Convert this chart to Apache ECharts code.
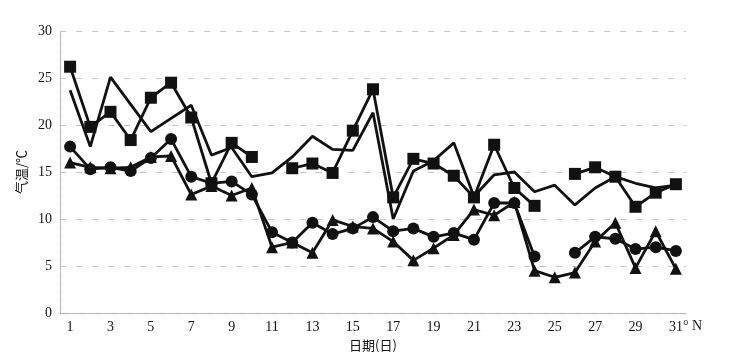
<!DOCTYPE html>
<html><head><meta charset="utf-8">
<script src="https://cdn.jsdelivr.net/npm/echarts@6/dist/echarts.min.js"></script>
<style>html,body{margin:0;padding:0;background:#fff}#c{width:730px;height:362px}</style>
</head><body><div id="c"></div>
<script>
var days = ['1','2','3','4','5','6','7','8','9','10','11','12','13','14','15','16','17','18','19','20','21','22','23','24','25','26','27','28','29','30','31'];
var yTicks = [0,5,10,15,20,25,30];
var plainLine = [23.7,17.7,25.1,22.2,19.3,20.7,22.1,16.8,17.6,14.5,14.9,16.6,18.8,17.4,17.3,21.3,10.0,15.1,16.2,18.1,12.4,14.7,15.0,12.9,13.6,11.5,13.3,14.5,13.8,13.3,13.6];
var squares = [26.2,19.8,21.4,18.4,22.9,24.5,20.8,13.8,18.1,16.6,null,15.4,15.9,14.9,19.4,23.8,12.3,16.4,15.9,14.6,12.3,17.9,13.3,11.4,null,14.8,15.5,14.5,11.3,12.8,13.7];
var circles = [17.7,15.3,15.5,15.1,16.5,18.5,14.5,13.8,14.0,12.6,8.6,7.5,9.6,8.4,9.0,10.2,8.7,9.0,8.1,8.5,7.8,11.7,11.7,6.0,null,6.4,8.1,7.9,6.8,7.0,6.6];
var triangles = [16.0,15.5,15.4,15.5,16.6,16.7,12.6,13.5,12.5,13.3,7.0,7.5,6.4,9.9,9.2,9.0,7.6,5.6,6.9,8.3,11.0,10.4,11.8,4.5,3.8,4.3,7.6,9.6,4.8,8.7,4.7];
var lastSuffix = '° N';

var chart = echarts.init(document.getElementById('c'), null, {renderer:'canvas'});
var serif = 'Liberation Serif, Times New Roman, serif';
function ser(name, data, symbol, size){
  return {name:name, type:'line', data:data, symbol:symbol, symbolSize:size,
    showSymbol: symbol!=='none', connectNulls:false, animation:false,
    lineStyle:{color:'#111', width:2.8}, itemStyle:{color:'#111'}};
}
chart.setOption({
  backgroundColor:'#fff',
  animation:false,
  grid:{left:60, right:44, top:31, bottom:49},
  xAxis:{type:'category', data:days, boundaryGap:true,
    name:'日期(日)', nameLocation:'middle', nameGap:24,
    nameTextStyle:{fontFamily:'Noto Sans CJK SC', fontSize:13, color:'#111'},
    axisLine:{show:true, lineStyle:{color:'#aaa', type:'dotted', width:1}},
    axisTick:{show:false},
    axisLabel:{interval:1, margin:7, fontFamily:serif, fontSize:14, color:'#111'},
    splitLine:{show:false}},
  yAxis:{type:'value', min:yTicks[0], max:yTicks[yTicks.length-1], interval:5,
    name:'气温/℃', nameLocation:'middle', nameGap:32, nameRotate:90,
    nameTextStyle:{fontFamily:'Noto Sans CJK SC', fontSize:13, color:'#111'},
    axisLine:{show:true, lineStyle:{color:'#aaa', type:'dotted', width:1}},
    axisTick:{show:false},
    axisLabel:{margin:8, fontFamily:serif, fontSize:14, color:'#111'},
    splitLine:{show:true, lineStyle:{color:'#c4c4c4', type:[6,10], width:1}}},
  series:[
    ser('plain', plainLine, 'none', 0),
    ser('squares', squares, 'rect', 12),
    ser('circles', circles, 'circle', 12),
    ser('triangles', triangles, 'triangle', 12)
  ]
});
var px = chart.convertToPixel({xAxisIndex:0}, days[days.length-1]);
var py = chart.convertToPixel({yAxisIndex:0}, yTicks[0]);
chart.setOption({graphic:[{type:'text', left:px+7, top:py+6,
  style:{text:lastSuffix, font:'14px ' + serif, fill:'#111'}}]});
</script></body></html>
